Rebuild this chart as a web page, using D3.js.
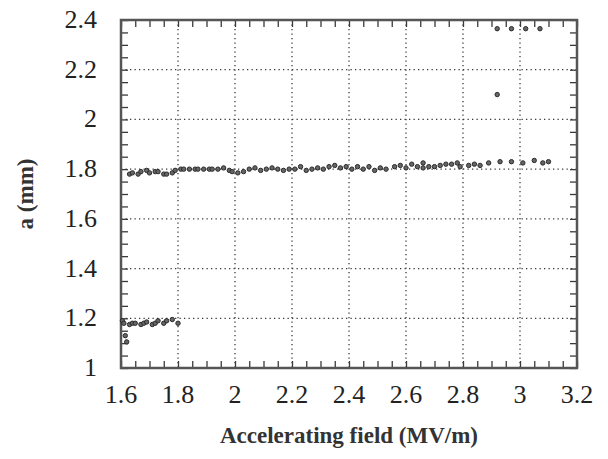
<!DOCTYPE html>
<html>
<head>
<meta charset="utf-8">
<script src="https://cdn.jsdelivr.net/npm/d3@7"></script>
</head>
<body style="margin:0">
<div id="chart"></div>
<script>
var fieldMain = [1.63, 1.64, 1.66, 1.67, 1.69, 1.70, 1.72, 1.73, 1.75, 1.76, 1.78, 1.79,
    1.81, 1.82, 1.84, 1.86, 1.87, 1.89, 1.91, 1.92, 1.94, 1.96, 1.98, 1.99,
    2.01, 2.03, 2.05, 2.07, 2.09, 2.11, 2.13, 2.15, 2.17, 2.19, 2.21, 2.23,
    2.25, 2.27, 2.29, 2.31, 2.33, 2.35, 2.37, 2.39, 2.41, 2.43, 2.45, 2.47,
    2.49, 2.51, 2.53, 2.56, 2.58, 2.60, 2.62, 2.64, 2.66, 2.66, 2.68, 2.70,
    2.72, 2.74, 2.76, 2.78, 2.79, 2.82, 2.84, 2.86, 2.89, 2.93, 2.97, 3.01,
    3.05, 3.08, 3.10];
var aMain = [1.78, 1.785, 1.78, 1.79, 1.795, 1.785, 1.79, 1.79, 1.78, 1.78, 1.785, 1.795,
    1.80, 1.80, 1.80, 1.80, 1.80, 1.80, 1.80, 1.80, 1.80, 1.805, 1.795, 1.79,
    1.785, 1.79, 1.80, 1.805, 1.795, 1.80, 1.805, 1.80, 1.795, 1.80, 1.80, 1.81,
    1.795, 1.80, 1.805, 1.80, 1.81, 1.815, 1.805, 1.81, 1.80, 1.81, 1.80, 1.81,
    1.795, 1.805, 1.80, 1.81, 1.815, 1.805, 1.82, 1.81, 1.825, 1.805, 1.81, 1.81,
    1.815, 1.82, 1.82, 1.825, 1.81, 1.815, 1.82, 1.815, 1.825, 1.83, 1.83, 1.825,
    1.835, 1.825, 1.83];

var fieldLow = [1.605, 1.61, 1.615, 1.62, 1.63, 1.64, 1.65, 1.67, 1.68, 1.69, 1.71, 1.72,
    1.73, 1.75, 1.76, 1.78, 1.80];
var aLow = [1.19, 1.18, 1.13, 1.105, 1.175, 1.18, 1.18, 1.175, 1.18, 1.185, 1.175, 1.18,
    1.19, 1.18, 1.19, 1.195, 1.18];

var fieldHigh = [2.92, 2.92, 2.97, 3.02, 3.07];
var aHigh = [2.10, 2.365, 2.365, 2.365, 2.365];

var xTicks = [1.6, 1.8, 2, 2.2, 2.4, 2.6, 2.8, 3, 3.2];
var yTicks = [1, 1.2, 1.4, 1.6, 1.8, 2, 2.2, 2.4];

var W = 608, H = 459;
var pLeft = 121, pRight = 577, pTop = 20, pBottom = 368;

var svg = d3.select("#chart").append("svg")
    .attr("width", W)
    .attr("height", H);

var x = d3.scaleLinear().domain([1.6, 3.2]).range([pLeft, pRight]);
var y = d3.scaleLinear().domain([1, 2.4]).range([pBottom, pTop]);

var ink = "#3a3a3a";

// dotted grid at the major ticks
svg.append("g").selectAll("line")
    .data(xTicks.slice(1, -1))
    .enter().append("line")
    .attr("x1", d => x(d)).attr("x2", d => x(d))
    .attr("y1", pTop).attr("y2", pBottom)
    .attr("stroke", ink).attr("stroke-width", 1.3)
    .attr("stroke-dasharray", "1.3,3.2");

svg.append("g").selectAll("line")
    .data(yTicks.slice(1, -1))
    .enter().append("line")
    .attr("x1", pLeft).attr("x2", pRight)
    .attr("y1", d => y(d)).attr("y2", d => y(d))
    .attr("stroke", ink).attr("stroke-width", 1.3)
    .attr("stroke-dasharray", "1.3,3.2");

// inward minor ticks on all four sides
var xMinor = d3.range(1.6, 3.2001, 0.05);
var yMinor = d3.range(1, 2.4001, 0.05);

svg.append("g").attr("transform", "translate(0," + pBottom + ")")
    .call(d3.axisBottom(x).tickValues(xMinor).tickFormat("").tickSizeInner(-7).tickSizeOuter(0));
svg.append("g").attr("transform", "translate(0," + pTop + ")")
    .call(d3.axisTop(x).tickValues(xMinor).tickFormat("").tickSizeInner(-7).tickSizeOuter(0));
svg.append("g").attr("transform", "translate(" + pLeft + ",0)")
    .call(d3.axisLeft(y).tickValues(yMinor).tickFormat("").tickSizeInner(-7).tickSizeOuter(0));
svg.append("g").attr("transform", "translate(" + pRight + ",0)")
    .call(d3.axisRight(y).tickValues(yMinor).tickFormat("").tickSizeInner(-7).tickSizeOuter(0));

svg.selectAll(".domain").remove();
svg.selectAll(".tick line").attr("stroke", ink).attr("stroke-width", 1.3);

// frame
svg.append("rect")
    .attr("x", pLeft).attr("y", pTop)
    .attr("width", pRight - pLeft).attr("height", pBottom - pTop)
    .attr("fill", "none")
    .attr("stroke", "#555")
    .attr("stroke-width", 2.5);

// tick labels, appended straight to the svg
xTicks.forEach(function(t) {
    svg.append("text")
        .attr("x", x(t))
        .attr("y", 403)
        .attr("text-anchor", "middle")
        .attr("font-size", 26)
        .style("font-family", "'Liberation Serif'")
        .attr("fill", "#222")
        .text(t);
});

yTicks.forEach(function(t) {
    svg.append("text")
        .attr("x", 97)
        .attr("y", y(t) + 8)
        .attr("text-anchor", "end")
        .attr("font-size", 26)
        .style("font-family", "'Liberation Serif'")
        .attr("fill", "#222")
        .text(t);
});

// axis titles
svg.append("text")
    .attr("x", (pLeft + pRight) / 2)
    .attr("y", 443)
    .attr("text-anchor", "middle")
    .attr("font-size", 23)
    .attr("font-weight", "bold")
    .style("font-family", "'Liberation Serif'")
    .attr("fill", "#333")
    .text("Accelerating field (MV/m)");

svg.append("text")
    .attr("transform", "translate(33," + ((pTop + pBottom) / 2) + ") rotate(-90)")
    .attr("text-anchor", "middle")
    .attr("font-size", 23)
    .attr("font-weight", "bold")
    .style("font-family", "'Liberation Serif'")
    .attr("fill", "#333")
    .text("a (mm)");

// points
var groups = [[fieldMain, aMain], [fieldLow, aLow], [fieldHigh, aHigh]];
groups.forEach(function(g) {
    svg.append("g").selectAll("circle")
        .data(g[0])
        .enter().append("circle")
        .attr("cx", d => x(d))
        .attr("cy", (d, i) => y(g[1][i]))
        .attr("r", 2.2)
        .attr("fill", "#666")
        .attr("stroke", "#2a2a2a")
        .attr("stroke-width", 1);
});
</script>
</body>
</html>
